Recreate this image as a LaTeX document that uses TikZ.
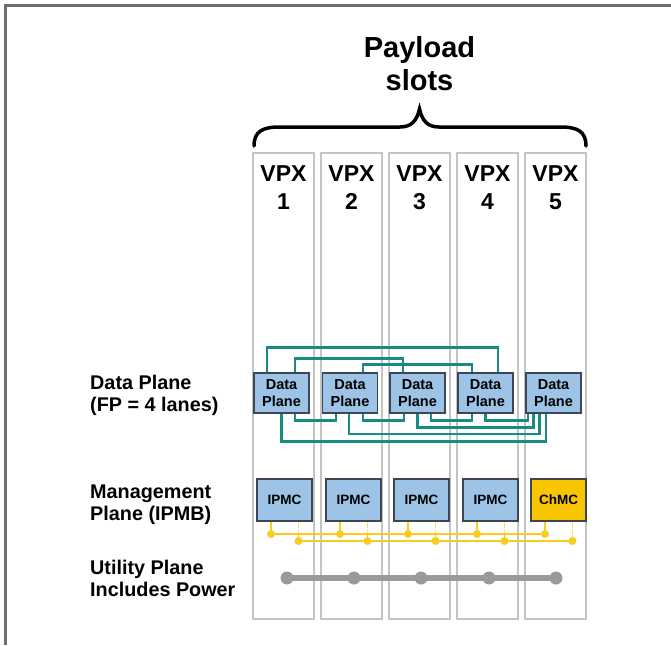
\documentclass[tikz,border=0pt]{standalone}
\usepackage{fontspec}
\setmainfont{Liberation Sans}
\usetikzlibrary{calc}
\definecolor{framegray}{HTML}{6E6E6E}
\definecolor{slotgray}{HTML}{C4C4C4}
\definecolor{boxblue}{HTML}{9DC3E6}
\definecolor{boxedge}{HTML}{3C4654}
\definecolor{chmcgold}{HTML}{F7C600}
\definecolor{lanegreen}{HTML}{168C82}
\definecolor{busyellow}{HTML}{F8CD20}
\definecolor{utilgray}{HTML}{9A9A9A}
\tikzset{
  slotbox/.style={draw=slotgray, line width=1.4pt, minimum width=61pt, minimum height=466pt, inner sep=0pt},
  vpxlabel/.style={anchor=north, inner sep=0pt, align=center, font=\fontsize{23}{28}\selectfont\bfseries},
  dpbox/.style={draw=boxedge, fill=boxblue, line width=1.1pt, minimum width=55pt, minimum height=40pt, inner sep=0pt, align=center, font=\fontsize{14.5}{16.5}\selectfont\bfseries},
  mgbox/.style={draw=boxedge, fill=boxblue, line width=1.1pt, minimum width=55pt, minimum height=42pt, inner sep=0pt, font=\fontsize{13.5}{15}\selectfont\bfseries},
  lane/.style={draw=lanegreen, line width=2.4pt},
  bus/.style={draw=busyellow, line width=1.5pt},
  busdash/.style={draw=busyellow, line width=1.5pt, dash pattern=on 1.5pt off 1.2pt},
  util/.style={draw=utilgray, line width=6pt},
  sidelabel/.style={anchor=north west, inner sep=0pt, align=left, font=\fontsize{19.8}{21.5}\selectfont\bfseries},
}
\begin{document}
\begin{tikzpicture}[x=1pt,y=-1pt]
\useasboundingbox (0,0) rectangle (671,645);
% frame
\draw[framegray, line width=3pt] (671,5.5) -- (5.5,5.5) -- (5.5,645);

% title and brace
\node[anchor=north, inner sep=0pt, align=center, font=\fontsize{29}{33}\selectfont\bfseries] (title) at (419.5,36) {Payload\\slots};
\draw[black, line width=3.5pt, line cap=round]
  (254,146) .. controls (254,131) and (263,127) .. (280,127) -- (400,127)
  .. controls (412,127) and (417,120) .. (419.5,109)
  .. controls (422,120) and (427,127) .. (439,127) -- (560,127)
  .. controls (577,127) and (586,131) .. (586,146);

% slots
\foreach \i/\x in {1/283.5,2/351.5,3/419.5,4/487.5,5/555.5}{
  \node[slotbox] (s\i) at (\x,386) {};
  \node[vpxlabel] (v\i) at (\x,165) {VPX\\\i};
}

% data plane boxes
\foreach \i/\x in {1/281.5,2/350,3/417.5,4/485.5,5/553.5}{
  \node[dpbox] (d\i) at (\x,393) {Data\\Plane};
}
% lanes over the top
\draw[lane] ([xshift=-14.5pt]d1.north) -- ++(0,-25) -| ([xshift=12.5pt]d4.north);
\draw[lane] ([xshift=13.5pt]d1.north) -- ++(0,-14) -| ([xshift=-14.5pt]d3.north);
\draw[lane] ([xshift=13pt]d2.north) -- ++(0,-8) -| ([xshift=-13.5pt]d4.north);
% lanes underneath
\draw[lane] ([xshift=13.5pt]d1.south) -- ++(0,7) -| ([xshift=-14pt]d2.south);
\draw[lane] ([xshift=13pt]d2.south) -- ++(0,7) -| ([xshift=-13.5pt]d3.south);
\draw[lane] ([xshift=13.5pt]d3.south) -- ++(0,7) -| ([xshift=-13.5pt]d4.south);
\draw[lane] ([xshift=0pt]d4.south) -- ++(0,7) -| ([xshift=-25.5pt]d5.south);
\draw[lane] ([xshift=0pt]d3.south) -- ++(0,14) -| ([xshift=-20pt]d5.south);
\draw[lane] ([xshift=-1pt]d2.south) -- ++(0,20.5) -| ([xshift=-14pt]d5.south);
\draw[lane] ([xshift=0pt]d1.south) -- ++(0,28) -| ([xshift=-7.5pt]d5.south);

% management plane
\foreach \i/\x in {1/284.5,2/353.5,3/421.5,4/490.5}{
  \node[mgbox] (m\i) at (\x,500) {IPMC};
}
\node[mgbox, fill=chmcgold] (m5) at (558.5,500) {ChMC};
\foreach \i/\x in {1/284.5,2/353.5,3/421.5,4/490.5,5/558.5}{
  \coordinate (ua\i) at ({\x-13.5},534);
  \coordinate (ub\i) at ({\x+14},541);
}
\draw[bus] (ua1) -- (ua5);
\draw[bus] (ub1) -- (ub5);
\foreach \i in {1,...,5}{
  \draw[bus] ([xshift=-13.5pt]m\i.south) -- (ua\i);
  \draw[busdash] ([xshift=14pt]m\i.south) -- (ub\i);
  \fill[busyellow] (ua\i) circle (4);
  \fill[busyellow] (ub\i) circle (4);
}

% utility plane
\foreach \i/\x in {1/287,2/354,3/421,4/489,5/556}{
  \coordinate (p\i) at (\x,578);
}
\draw[util] (p1) -- (p5);
\foreach \i in {1,...,5}{
  \fill[utilgray] (p\i) circle (6.5);
}

% side labels
\node[sidelabel] (ldata) at (90,375) {Data Plane\\(FP = 4 lanes)};
\node[sidelabel] (lmgmt) at (90,485) {Management\\Plane (IPMB)};
\node[sidelabel] (lutil) at (90,560) {Utility Plane\\Includes Power};
\end{tikzpicture}
\end{document}
